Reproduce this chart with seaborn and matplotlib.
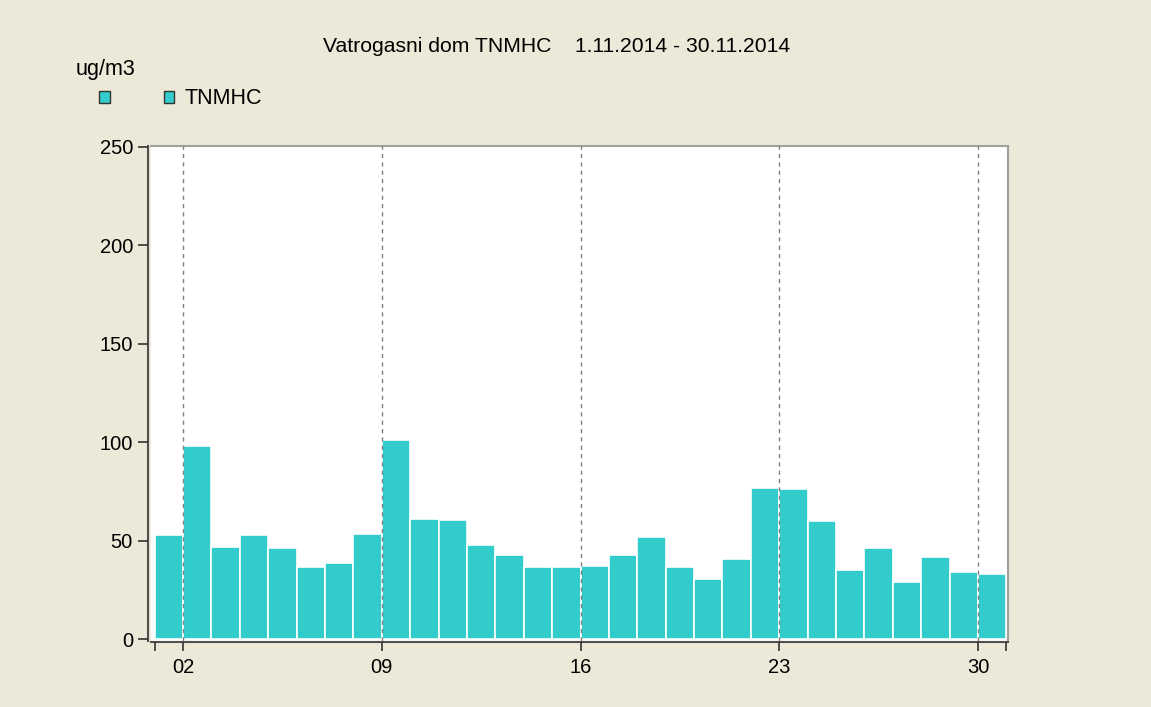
import seaborn as sns
import matplotlib.pyplot as plt
import pandas as pd
import numpy as np
from matplotlib.patches import Patch

# daily averages, November 2014
days = list(range(1, 31))
tnmhc = [53, 98, 47, 53, 46.5, 37, 39, 53.5, 101, 61, 60.5, 48, 43, 37, 37,
         37.5, 43, 52, 37, 30.5, 41, 77, 76.5, 60, 35, 46.5, 29, 42, 34, 33]
tick_days = [2, 9, 16, 23, 30]
tick_labels = ['02', '09', '16', '23', '30']
edge_days = [1, 31]
y_ticks = [0, 50, 100, 150, 200, 250]

title = "Vatrogasni dom TNMHC    1.11.2014 - 30.11.2014"
unit = "ug/m3"
series_name = "TNMHC"

bg = '#ECE9D8'
bar_color = '#33CCCC'

sns.set_theme(style="white")
plt.rcParams['font.family'] = ['Liberation Sans', 'DejaVu Sans']
plt.rcParams['text.color'] = 'black'

df = pd.DataFrame({'day': days, 'value': tnmhc})

fig = plt.figure(figsize=(11.51, 7.07), dpi=100, facecolor=bg)
ax = fig.add_axes([151 / 1151, 1 - 641 / 707, (1008 - 151) / 1151, (641 - 146) / 707])
ax.set_facecolor('white')

# one bar per day, spanning the whole day
sns.histplot(data=df, x='day', weights='value', binwidth=1, binrange=(1, 31),
             color=bar_color, alpha=1, edgecolor='white', linewidth=1.2, ax=ax)

ax.set_xlim(0.873, 31.056)
ax.set_ylim(-0.8, 250.5)
ax.set_xticks(tick_days)
ax.set_xticklabels(tick_labels)
ax.set_xticks(edge_days, minor=True)
ax.set_yticks(y_ticks)
ax.set_xlabel('')
ax.set_ylabel('')

ax.tick_params(axis='both', which='both', direction='out', colors='#333333',
               labelcolor='black', labelsize=14.5, width=1.2)
ax.tick_params(axis='x', which='both', bottom=True, length=6.5, pad=5)
ax.tick_params(axis='y', left=True, length=7, pad=4)

ax.grid(axis='x', which='major', color='#808080', linestyle=(0, (3, 3)), linewidth=1)
ax.grid(axis='y', visible=False)
ax.set_axisbelow(False)

for side in ['top', 'right']:
    ax.spines[side].set_color('#A0A0A0')
    ax.spines[side].set_linewidth(1.5)
for side in ['left', 'bottom']:
    ax.spines[side].set_color('#505050')
    ax.spines[side].set_linewidth(1.5)
ax.spines['left'].set_position(('outward', 2))
ax.spines['bottom'].set_position(('outward', 1))

fig.text(557 / 1151, 1 - 47 / 707, title, ha='center', va='center', fontsize=15.2, color='black')
fig.text(76 / 1151, 1 - 70 / 707, unit, ha='left', va='center', fontsize=15.5, color='black')

handles = [Patch(facecolor=bar_color, edgecolor='#333333', linewidth=1),
           Patch(facecolor=bar_color, edgecolor='#333333', linewidth=1)]
fig.legend(handles=handles, labels=['', series_name], ncol=2, loc='center left',
           bbox_to_anchor=(99 / 1151, 1 - 99 / 707), frameon=False, fontsize=15.5,
           handlelength=0.5, handleheight=0.5, handletextpad=0.45,
           columnspacing=2.05, borderpad=0, borderaxespad=0)

fig.savefig('out.png', dpi=100, facecolor=bg)
